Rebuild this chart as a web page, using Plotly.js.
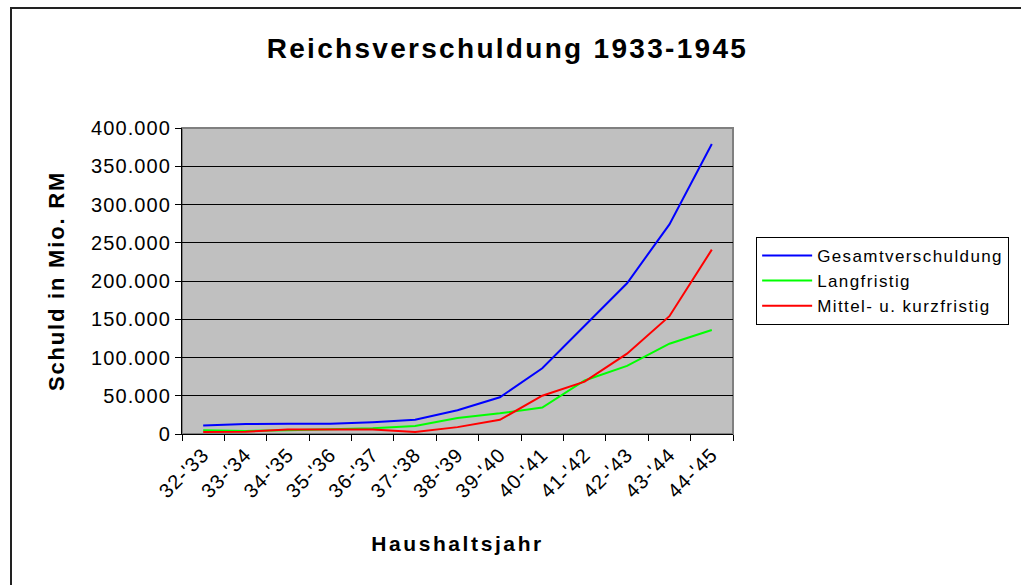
<!DOCTYPE html>
<html>
<head>
<meta charset="utf-8">
<script src="https://cdn.plot.ly/plotly-3.0.1.min.js"></script>
<style>
html,body{margin:0;padding:0;background:#fff;}
#wrap{position:relative;width:1021px;height:585px;overflow:hidden;}
#chart{width:1021px;height:585px;}
#frame{position:absolute;left:10px;top:7px;width:1100px;height:700px;border-left:2px solid #222;border-top:2px solid #222;pointer-events:none;}
.gtitle{letter-spacing:2.3px;}
.g-ytitle text{letter-spacing:1.8px;}
.g-xtitle text{letter-spacing:2.6px;}
.ytick text{letter-spacing:1.1px;}
.xtick text{letter-spacing:1px;}
.legendtext{letter-spacing:1.4px;}
</style>
</head>
<body>
<div id="wrap"><div id="chart"></div><div id="frame"></div></div>
<script>
var categories = ["32-'33","33-'34","34-'35","35-'36","36-'37","37-'38","38-'39","39-'40","40-'41","41-'42","42-'43","43-'44","44-'45"];
var gesamt = [11000, 13000, 13500, 13500, 15500, 18500, 31000, 48000, 86000, 142000, 197000, 274000, 379000];
var langfristig = [5000, 4000, 5000, 6000, 7500, 10500, 21000, 27000, 34500, 70000, 89000, 118000, 136000];
var mittelkurz = [2500, 3000, 6000, 6000, 6000, 2500, 9000, 18500, 50000, 68500, 105000, 154000, 241000];
var seriesNames = ["Gesamtverschuldung", "Langfristig", "Mittel- u. kurzfristig"];
var yTicks = [0, 50000, 100000, 150000, 200000, 250000, 300000, 350000, 400000];

var font = "Liberation Sans, Arial, sans-serif";
var traces = [
  {x: categories, y: gesamt, name: seriesNames[0], type: "scatter", mode: "lines", line: {color: "#0000ff", width: 2}},
  {x: categories, y: langfristig, name: seriesNames[1], type: "scatter", mode: "lines", line: {color: "#00ff00", width: 2}},
  {x: categories, y: mittelkurz, name: seriesNames[2], type: "scatter", mode: "lines", line: {color: "#ff0000", width: 2}}
];
var layout = {
  width: 1021, height: 585,
  margin: {l: 182, r: 286, t: 128, b: 151, pad: 0},
  paper_bgcolor: "#ffffff",
  plot_bgcolor: "#c0c0c0",
  separators: ",.",
  font: {family: font, color: "#000", size: 20},
  title: {text: "<b>Reichsverschuldung 1933-1945</b>", font: {family: font, size: 28, color: "#000"}, x: 0.497, xanchor: "center", y: 0.917, yanchor: "middle"},
  xaxis: {
    type: "category", tickson: "boundaries", ticks: "outside", ticklen: 6, tickcolor: "#000",
    tickangle: -45, tickfont: {size: 20},
    showline: true, linecolor: "#000", linewidth: 1, showgrid: false, zeroline: false,
    title: {text: "<b>Haushaltsjahr</b>", font: {size: 21}, standoff: 35},
    range: [-0.5, 12.5], fixedrange: true
  },
  yaxis: {
    range: [0, 400000], tickvals: yTicks, tickformat: ",.0f",
    ticks: "outside", ticklen: 6, tickcolor: "#000", tickfont: {size: 20},
    showline: true, linecolor: "#000", linewidth: 1,
    showgrid: true, gridcolor: "#000", gridwidth: 1, zeroline: false,
    title: {text: "<b>Schuld in Mio. RM</b>", font: {size: 22}, standoff: 20},
    fixedrange: true
  },
  shapes: [
    {type: "rect", xref: "paper", yref: "paper", x0: 0, x1: 1, y0: 0, y1: 1, line: {color: "#808080", width: 2}, layer: "below"}
  ],
  showlegend: true,
  legend: {
    x: 1.042, xanchor: "left", y: 0.644, yanchor: "top",
    bgcolor: "#ffffff", bordercolor: "#000", borderwidth: 1,
    font: {family: font, size: 17, color: "#000"},
    itemwidth: 50, tracegroupgap: 0
  }
};
Plotly.newPlot("chart", traces, layout, {displayModeBar: false, staticPlot: true});
</script>
</body>
</html>
